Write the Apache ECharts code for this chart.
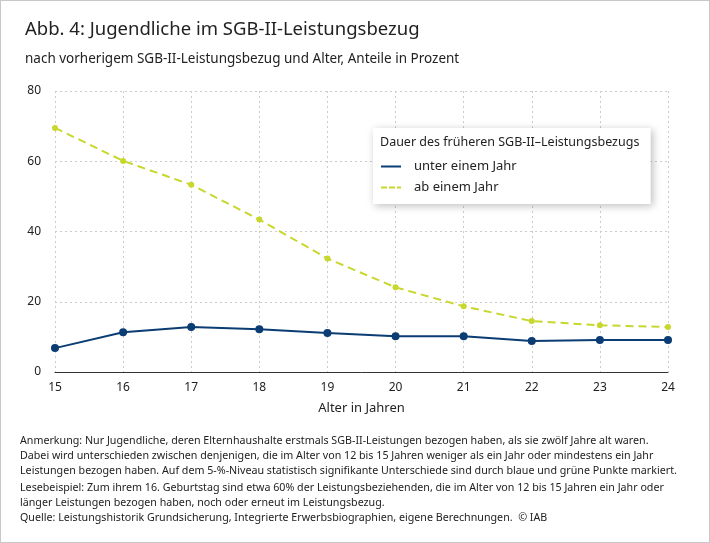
<!DOCTYPE html>
<html><head><meta charset="utf-8">
<script src="https://cdn.jsdelivr.net/npm/echarts@6/dist/echarts.min.js"></script>
<style>html,body{margin:0;padding:0;background:#fff}#c{width:708px;height:541px;border:1px solid #c8c8c8}</style>
</head><body><div id="c"></div>
<script>
const ages = ['15','16','17','18','19','20','21','22','23','24'];
const unterEinemJahr = [6.8,11.3,12.8,12.2,11.1,10.2,10.2,8.8,9.1,9.1];
const abEinemJahr = [69.5,60.1,53.3,43.4,32.3,24.1,18.7,14.5,13.3,12.8];
const yTicks = [0,20,40,60,80];
const F = 'Noto Sans';
const chart = echarts.init(document.getElementById('c'));
const notes = [
 'Anmerkung: Nur Jugendliche, deren Elternhaushalte erstmals SGB-II-Leistungen bezogen haben, als sie zwölf Jahre alt waren.',
 'Dabei wird unterschieden zwischen denjenigen, die im Alter von 12 bis 15 Jahren weniger als ein Jahr oder mindestens ein Jahr',
 'Leistungen bezogen haben. Auf dem 5-%-Niveau statistisch signifikante Unterschiede sind durch blaue und grüne Punkte markiert.'
];
const notes2 = [
 'Lesebeispiel: Zum ihrem 16. Geburtstag sind etwa 60% der Leistungsbeziehenden, die im Alter von 12 bis 15 Jahren ein Jahr oder',
 'länger Leistungen bezogen haben, noch oder erneut im Leistungsbezug.'
];
chart.setOption({
 animation:false,
 textStyle:{fontFamily:F},
 title:[
  {text:'Abb. 4: Jugendliche im SGB-II-Leistungsbezug',left:19,top:14,textStyle:{fontFamily:F,fontSize:18.5,fontWeight:'normal',color:'#222'}},
  {text:'nach vorherigem SGB-II-Leistungsbezug und Alter, Anteile in Prozent',left:19,top:46,textStyle:{fontFamily:F,fontSize:13.5,fontWeight:'normal',color:'#222'}}
 ],
 grid:{left:54,right:41,top:90,bottom:170},
 xAxis:{type:'category',data:ages,boundaryGap:false,name:'Alter in Jahren',nameLocation:'middle',nameGap:30,
  nameTextStyle:{fontSize:13,color:'#222'},
  axisLine:{lineStyle:{color:'#333'}},axisTick:{show:false},
  axisLabel:{color:'#222',fontSize:12,margin:10},
  splitLine:{show:true,lineStyle:{color:'#ccc',type:[2,3]}}},
 yAxis:{type:'value',min:0,max:80,interval:20,
  axisLabel:{color:'#222',fontSize:12,margin:14},axisLine:{show:false},axisTick:{show:false},
  splitLine:{lineStyle:{color:'#ccc',type:[2,3]}}},
 legend:{left:372,top:127,orient:'vertical',itemGap:8,itemWidth:36,itemHeight:2,
  backgroundColor:'#fff',shadowColor:'rgba(0,0,0,0.25)',shadowBlur:8,shadowOffsetX:2,shadowOffsetY:2,
  padding:[32,134,10,8],textStyle:{fontSize:13,color:'#222'},
  data:[{name:'unter einem Jahr',icon:'path://M0,0h10v1h-10z'},{name:'ab einem Jahr',icon:'path://M0,0h3v1h-3zM4,0h3v1h-3zM8,0h2v1h-2z'}]},
 graphic:[
  {type:'text',left:379,top:135,z:100,style:{text:'Dauer des früheren SGB-II\u2013Leistungsbezugs',font:'12.5px Noto Sans',fill:'#222'}},
  {type:'text',left:19,top:432,style:{text:notes.join('\n'),font:'10.7px Noto Sans',fill:'#222',lineHeight:15}},
  {type:'text',left:19,top:479,style:{text:notes2.join('\n'),font:'10.7px Noto Sans',fill:'#222',lineHeight:15}},
  {type:'text',left:19,top:511,style:{text:'Quelle: Leistungshistorik Grundsicherung, Integrierte Erwerbsbiographien, eigene Berechnungen.  © IAB',font:'10.7px Noto Sans',fill:'#222'}}
 ],
 series:[
  {name:'unter einem Jahr',type:'line',data:unterEinemJahr,color:'#0b3c73',lineStyle:{width:2},symbol:'circle',symbolSize:8,itemStyle:{color:'#0b3c73'}},
  {name:'ab einem Jahr',type:'line',data:abEinemJahr,color:'#c8d72d',lineStyle:{width:2,type:[8,5]},symbol:'circle',symbolSize:6,itemStyle:{color:'#c8d72d'}}
 ]
});
</script></body></html>
